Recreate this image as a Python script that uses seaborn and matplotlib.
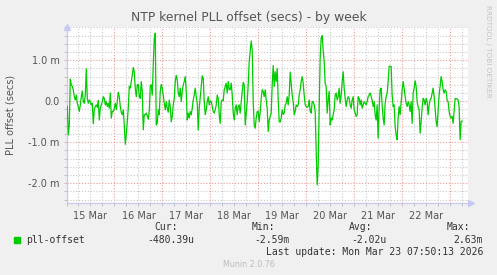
import numpy as np
import pandas as pd
import matplotlib
matplotlib.use("Agg")
import matplotlib.pyplot as plt
from matplotlib.patches import Rectangle
import seaborn as sns

# ---------------- data (milliseconds), 30-minute samples ----------------
seg1 = [-0.11, -0.13, -0.82, -0.58, 0.54, 0.40, 0.36, 0.28, 0.11, 0.03, 0.15, -0.05,
        -0.13, -0.25, -0.09, 0.11, 0.25, -0.01, -0.05, 0.15, 0.79, 0.07, -0.05, 0.03,
        -0.01, -0.09, -0.05, -0.55, -0.21, -0.13, -0.09, -0.15, 0.02, -0.46, -0.17, -0.09,
        -0.01, 0.11, 0.07, -0.09, -0.01, -0.13, -0.05, -0.17, 0.20, -0.41, -0.25, -0.25,
        -0.17, -0.05, -0.21, -0.01, 0.22, 0.11, -0.13, -0.27, -0.33, -0.21, -0.58, -1.05,
        -0.82, -0.50, -0.17, 0.36, 0.32, 0.48, 0.64, 0.82, 0.72, 0.32, 0.11, 0.40,
        0.41, 0.11, 0.07, 0.48, 0.24, -0.70, -0.33, -0.33, -0.29, -0.35, -0.44, -0.25,
        0.36, 0.40, 0.15, 0.89, 1.54, 1.66, -0.58, -0.54]
seg2 = [-0.21, -0.33, 0.24, 0.41, 0.32, 0.15, -0.05, -0.21, -0.01, -0.17, -0.27, 0.03,
        -0.13, -0.50, -0.37, -0.09, 0.07, 0.48, 0.63, 0.52, 0.20, 0.11, 0.32, -0.01,
        0.24, 0.40, 0.48, 0.60, 0.24, -0.46, -0.29, -0.41, -0.25, -0.33, -0.17, 0.03,
        0.15, 0.32, 0.11, -0.05, -0.70, -0.17, 0.11, 0.36, 0.62, 0.56, -0.01, -0.33,
        -0.21, -0.01, 0.11, -0.09, 0.01, -0.01, -0.13, -0.25, -0.29, -0.21, -0.09, 0.15,
        0.07, -0.33, -0.54, -0.01, 0.03, 0.01, 0.28, 0.36, 0.44, 0.20, 0.48, 0.28,
        0.28, 0.44, 0.15, -0.29, -0.46, -0.17, -0.09, -0.33, -0.13, -0.09, -0.29, -0.01,
        0.24, 0.46, 0.40, -0.58, -0.29, -0.01, 0.40, 0.97, 1.21, 1.47, 1.25, -0.01,
        -0.58, -0.66, -0.41, -0.25]
seg3 = [-0.25, -0.50, -0.25, 0.07, 0.28, 0.24, 0.11, 0.28, 0.03, -0.17, -0.74, -0.46,
        -0.37, -0.29, 0.40, 0.87, 0.36, 0.72, 0.48, 0.80, 0.03, -0.50, -0.51, -0.41,
        -0.21, -0.32, -0.29, -0.09, -0.05, 0.11, -0.09, 0.15, 0.71, 0.44, 0.15, -0.01,
        -0.33, -0.25, -0.09, -0.13, -0.09, 0.15, 0.28, 0.48, 0.60, 0.44, 0.15, -0.09,
        -0.13, -0.15, -0.13, 0.03, -0.25, -0.29, -0.01, -0.01, -0.09, -0.25, -1.23, -2.04,
        -1.55, -0.17, 1.05, 1.54, 1.60, 1.25, 0.97, 0.44, 0.36, -0.29, 0.03, 0.24,
        -0.58, -0.41, -0.46, -0.33, -0.21, 0.15, 0.20, 0.03, 0.11, 0.32, -0.05, 0.15,
        0.48, 0.72, 0.32, 0.07, -0.13, 0.03, 0.11, 0.07, -0.09, -0.17, 0.03, 0.11,
        -0.21, -0.29, -0.37, -0.33]
seg4 = [0.11, 0.07, -0.09, 0.03, -0.17, -0.09, -0.01, -0.05, -0.09, -0.01, 0.11, 0.15,
        0.20, 0.11, 0.03, -0.13, -0.01, -0.33, -0.46, -0.09, -0.90, -0.17, 0.28, 0.32,
        -0.09, -0.41, -0.58, -0.05, 0.11, 0.20, 0.48, 0.85, 0.85, 0.85, 0.15, -0.13,
        -0.09, -0.62, -0.82, -0.94, -0.41, -0.13, -0.33, -0.01, 0.28, 0.48, 0.32, 0.11,
        -0.05, -0.13, -0.01, -0.09, -0.25, -0.01, -0.54, 0.20, 0.32, 0.50, 0.36, -0.01,
        -0.13, -0.21, -0.78, -0.50, -0.17, 0.07, 0.03, -0.09, 0.07, -0.01, -0.33, -0.09,
        0.03, 0.07, 0.20, 0.32, 0.11, -0.17, -0.50, -0.62, -0.25, 0.15, 0.36, 0.60,
        0.48, 0.28, 0.20, 0.28, 0.24, 0.03, -0.01, -0.25, -0.37, -0.41, -0.37, -0.54,
        -0.25, 0.07, 0.06, 0.06, 0.03, -0.13, -0.94, -0.50, -0.48]

day_labels = ["15 Mar", "16 Mar", "17 Mar", "18 Mar", "19 Mar", "20 Mar", "21 Mar", "22 Mar"]
y_tick_values = [-2.0, -1.0, 0.0, 1.0]
y_tick_labels = ["-2.0 m", "-1.0 m", "0.0", "1.0 m"]
legend_name = "pll-offset"
stat_headers = ["Cur:", "Min:", "Avg:", "Max:"]
stat_values = ["-480.39u", "-2.59m", "-2.02u", "2.63m"]
last_update = "Last update: Mon Mar 23 07:50:13 2026"
title = "NTP kernel PLL offset (secs) - by week"
ylabel = "PLL offset (secs)"

values = seg1 + seg2 + seg3 + seg4
times = pd.date_range("2026-03-14 23:54", periods=len(values), freq="30min")
origin = pd.Timestamp("2026-03-15 00:00")
hours = (times - origin) / pd.Timedelta(hours=1)
df = pd.DataFrame({"hours": hours, "offset": values})

# ---------------- figure ----------------
W, H = 497, 275
BG = "#F0F0F0"
fig = plt.figure(figsize=(W / 100, H / 100), dpi=100, facecolor=BG)
L, R, T, B = 66.5, 468.0, 27.0, 202.5
ax = fig.add_axes([L / W, 1 - B / H, (R - L) / W, (B - T) / H])
ax.set_facecolor("white")

XMIN, XMAX = 0.1, 200.85
YMIN, YMAX = -2.47, 1.81
ax.set_xlim(XMIN, XMAX)
ax.set_ylim(YMIN, YMAX)

minor_c = "#c9c9c9"
major_c = "#ee9a9a"
for h in np.arange(0, XMAX, 6):
    ax.axvline(h, color=major_c if h % 24 == 0 else minor_c, lw=0.8,
               ls=(0, (1, 1.6)), zorder=1)
for yv in np.arange(-2.4, 1.81, 0.2):
    yv = round(yv, 1)
    is_major = abs(yv - round(yv)) < 1e-9
    ax.axhline(yv, color=major_c if is_major else minor_c, lw=0.8,
               ls=(0, (1, 1.6)), zorder=1)

sns.lineplot(data=df, x="hours", y="offset", ax=ax, color="#00CC00", lw=0.9, zorder=3)

ax.set_xlabel("")
ax.set_ylabel("")
for s in ["top", "right"]:
    ax.spines[s].set_visible(False)
axis_c = "#c8c8f4"
for s in ["left", "bottom"]:
    ax.spines[s].set_color(axis_c)
    ax.spines[s].set_linewidth(0.9)

text_c = "#555555"
ax.set_xticks([12 + 24 * i for i in range(len(day_labels))], day_labels)
ax.set_xticks(np.arange(0, XMAX, 6), minor=True)
ax.set_yticks(y_tick_values, y_tick_labels)
ax.set_yticks(np.arange(-2.4, 1.81, 0.2), minor=True)
ax.tick_params(axis="both", which="both", color="#c0c0c0", length=2, width=0.7,
               labelsize=7, labelcolor=text_c, pad=3)
ax.tick_params(axis="x", which="major", pad=4)

# axis arrows
ax.plot([0], [1.0], marker="^", ms=4, color=axis_c, transform=ax.transAxes, clip_on=False)
ax.plot([1.0085], [0], marker=">", ms=4, color=axis_c, transform=ax.transAxes, clip_on=False)

def ftext(x, y, s, **kw):
    fig.text(x / W, 1 - y / H, s, **kw)

ftext(248.5, 18, title, ha="center", va="center", fontsize=8.9, color=text_c)
ftext(10.5, 115, ylabel, ha="center", va="center", rotation=90, fontsize=7, color=text_c)
ftext(488, 5, "RRDTOOL / TOBI OETIKER", ha="center", va="top", rotation=270,
      fontsize=5.2, color="#c4c4c4")

mono = "DejaVu Sans Mono"
fig.patches.append(Rectangle((14 / W, 1 - 243.3 / H), 6 / W, 6 / H,
                             transform=fig.transFigure, color="#00CC00"))
ftext(26.3, 240, legend_name, ha="left", va="center", family=mono, fontsize=7, color="#333333")
head_x = [154, 252, 349, 447]
val_right = [194, 290, 387, 483]
for hx, hs in zip(head_x, stat_headers):
    ftext(hx, 227.5, hs, ha="left", va="center", family=mono, fontsize=7, color="#333333")
for vx, vs in zip(val_right, stat_values):
    ftext(vx, 240, vs, ha="right", va="center", family=mono, fontsize=7, color="#333333")
ftext(483, 252, last_update, ha="right", va="center", family=mono, fontsize=7, color="#333333")
ftext(248.5, 264.5, "Munin 2.0.76", ha="center", va="center", fontsize=5.8, color="#bdbdbd")

fig.savefig("out.png", dpi=100, facecolor=BG)
